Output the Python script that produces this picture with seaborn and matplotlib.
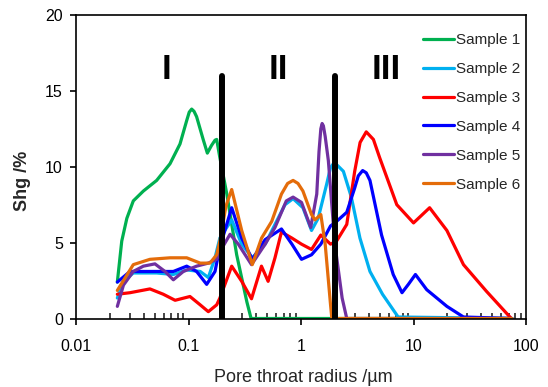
import numpy as np
import pandas as pd
import matplotlib
matplotlib.use("Agg")
import matplotlib.pyplot as plt
import matplotlib.ticker as mticker
import seaborn as sns

# data (pore throat radius in um, Shg in %)
s1_r = [0.0233, 0.0255, 0.0283, 0.0323, 0.0397, 0.0521, 0.0685, 0.084, 0.0964, 0.1015, 0.1067,
        0.112, 0.118, 0.135, 0.147, 0.16, 0.172, 0.178, 0.19, 0.219, 0.268, 0.33, 0.36, 75]
s1_y = [2.4, 5.1, 6.6, 7.75, 8.4, 9.1, 10.2, 11.5, 13.05, 13.6, 13.8,
        13.65, 13.3, 11.8, 10.9, 11.4, 11.75, 11.8, 10.6, 8.2, 4.2, 1.1, 0.0, 0.0]

s2_r = [0.0233, 0.0264, 0.0323, 0.0521, 0.0733, 0.0964, 0.127, 0.15, 0.172, 0.19,
        0.242, 0.297, 0.369, 0.48, 0.587, 0.72, 0.85, 1.04, 1.24, 1.42,
        1.69, 1.83, 1.94, 2.1, 2.38, 2.8, 3.34, 4.1, 5.3, 7.3, 75]
s2_y = [1.35, 2.45, 3.0, 3.0, 2.9, 3.2, 3.1, 2.7, 4.0, 5.3,
        6.5, 4.9, 4.0, 4.9, 6.2, 7.5, 7.9, 7.3, 5.8, 6.6,
        8.85, 9.95, 10.2, 10.1, 9.7, 8.0, 5.3, 3.1, 1.6, 0.1, 0.0]

s3_r = [0.0233, 0.0302, 0.0454, 0.0596, 0.076, 0.103, 0.127, 0.15, 0.178, 0.19,
        0.242, 0.297, 0.363, 0.445, 0.51, 0.587, 0.67, 0.83, 1.01, 1.24,
        1.5, 1.83, 2.07, 2.55, 3.0, 3.35, 3.8, 4.4, 5.0, 7.1, 10.0, 13.9,
        19.8, 27.8, 44.4, 74]
s3_y = [1.6, 1.7, 1.95, 1.6, 1.2, 1.45, 0.9, 0.45, 0.9, 1.35,
        3.45, 2.45, 1.3, 3.45, 2.45, 4.0, 5.7, 5.3, 4.9, 4.55,
        5.5, 4.9, 5.1, 6.2, 9.7, 11.6, 12.3, 11.8, 10.6, 7.5, 6.3, 7.3,
        5.8, 3.55, 1.8, 0.0]

s4_r = [0.0233, 0.0302, 0.0454, 0.0733, 0.0964, 0.118, 0.145, 0.172, 0.19, 0.242,
        0.297, 0.369, 0.48, 0.67, 0.83, 1.01, 1.24, 1.5, 1.83, 2.07,
        2.55, 3.0, 3.23, 3.53, 3.8, 4.1, 5.2, 6.6, 7.9, 9.0, 10.4, 13.1,
        19.8, 27.8, 75]
s4_y = [2.4, 3.1, 3.1, 3.1, 3.45, 3.1, 2.25, 3.1, 4.7, 7.3,
        5.3, 3.9, 5.2, 5.9, 4.9, 3.9, 4.2, 4.9, 6.1, 6.4,
        7.0, 8.6, 9.4, 9.75, 9.6, 9.1, 5.5, 2.9, 1.7, 2.25, 2.9, 1.9,
        0.8, 0.1, 0.0]

s5_r = [0.0233, 0.0264, 0.0323, 0.0397, 0.0503, 0.0618, 0.0733, 0.09, 0.118, 0.15,
        0.178, 0.19, 0.234, 0.277, 0.363, 0.48, 0.587, 0.74, 0.85, 1.01,
        1.22, 1.38, 1.445, 1.5, 1.54, 1.58, 1.64, 1.75, 2.0, 2.32, 2.55, 75]
s5_y = [0.8, 2.2, 3.1, 3.45, 3.6, 3.1, 2.55, 3.1, 3.45, 3.65,
        3.9, 4.4, 5.55, 4.9, 3.55, 4.9, 6.0, 7.75, 8.0, 7.65,
        6.0, 8.2, 11.0, 12.5, 12.85, 12.7, 12.0, 10.4, 4.9, 1.35, 0.0, 0.0]

s6_r = [0.0233, 0.0323, 0.0454, 0.0685, 0.0964, 0.127, 0.155, 0.178, 0.19, 0.215,
        0.242, 0.297, 0.369, 0.446, 0.549, 0.67, 0.76, 0.85, 0.94, 1.04, 1.24, 1.33,
        1.5, 1.64, 1.83, 1.88, 75]
s6_y = [1.85, 3.55, 3.9, 4.0, 4.0, 3.65, 3.65, 4.2, 5.1, 7.4,
        8.5, 5.8, 3.55, 5.3, 6.4, 8.2, 8.9, 9.1, 8.9, 8.4, 6.85, 6.5,
        6.85, 4.9, 0.9, 0.0, 0.0]

samples = ["Sample 1", "Sample 2", "Sample 3", "Sample 4", "Sample 5", "Sample 6"]
colors = ["#00B050", "#00B0F0", "#FF0000", "#0000FF", "#7030A0", "#E46C0A"]

boundaries = [0.2, 2.0]
boundary_top = 16
region_labels = ["I", "II", "III"]
region_x = [0.0635, 0.634, 5.78]
region_y = 16.4

x_ticks = [0.01, 0.1, 1, 10, 100]
x_tick_labels = ["0.01", "0.1", "1", "10", "100"]
y_ticks = [0, 5, 10, 15, 20]

# long table for seaborn
frames = []
for name, r, y in zip(samples,
                      [s1_r, s2_r, s3_r, s4_r, s5_r, s6_r],
                      [s1_y, s2_y, s3_y, s4_y, s5_y, s6_y]):
    frames.append(pd.DataFrame({"r": r, "shg": y, "sample": name}))
df = pd.concat(frames, ignore_index=True)

sns.set_theme(style="ticks")
plt.rcParams["font.family"] = ["Liberation Sans", "DejaVu Sans"]

fig = plt.figure(figsize=(5.48, 3.87), dpi=100)
ax = fig.add_axes([0.1387, 0.177, 0.8212, 0.7842])

sns.lineplot(data=df, x="r", y="shg", hue="sample", hue_order=samples,
             palette=colors, estimator=None, sort=False, linewidth=2.3, ax=ax)

ax.vlines(boundaries, 0, boundary_top, colors="black", linewidth=4.3,
          capstyle="round", zorder=5)
for lab, xr in zip(region_labels, region_x):
    ax.text(xr, region_y, lab, ha="center", va="center", fontsize=25,
            fontweight="bold", color="black")

ax.set_xscale("log")
ax.set_xlim(0.01, 100)
ax.set_ylim(0, 20)
ax.set_xticks(x_ticks)
ax.xaxis.set_major_formatter(mticker.FixedFormatter(x_tick_labels))
ax.xaxis.set_minor_locator(mticker.LogLocator(base=10, subs=np.arange(2, 10)))
ax.xaxis.set_minor_formatter(mticker.NullFormatter())
ax.set_yticks(y_ticks)

ax.tick_params(axis="x", which="major", direction="out", length=4.5, width=1.2,
               labelsize=11.5, pad=10, colors="black")
ax.tick_params(axis="x", which="minor", direction="in", length=4, width=1.2)
ax.tick_params(axis="y", which="major", direction="out", length=4.5, width=1.2,
               labelsize=11.5, pad=5, colors="black")
for sp in ax.spines.values():
    sp.set_visible(True)
    sp.set_linewidth(1.2)
    sp.set_color("black")

ax.set_xlabel("Pore throat radius /µm", fontsize=13)
ax.set_ylabel("Shg /%", fontsize=13, fontweight="bold")
ax.xaxis.set_label_coords(0.504, -0.168)
ax.yaxis.set_label_coords(-0.101, 0.453)

handles, labels = ax.get_legend_handles_labels()
ax.legend(handles, labels, loc="upper left", bbox_to_anchor=(0.771, 0.941),
          frameon=False, fontsize=11, handlelength=2.0, handletextpad=0.15,
          labelspacing=0.98, borderpad=0, borderaxespad=0)

fig.savefig("out.png", dpi=100)
